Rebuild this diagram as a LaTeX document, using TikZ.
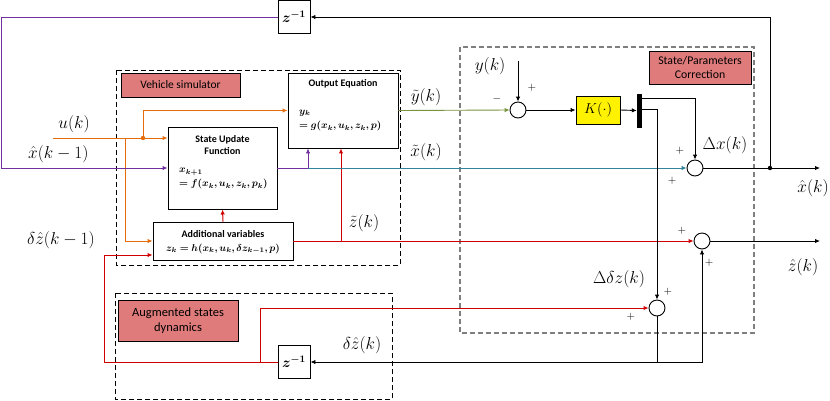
\documentclass[tikz,border=0pt]{standalone}
\usepackage{amsmath,bm}
\usepackage{fontspec}
\setmainfont{Carlito}
\usetikzlibrary{arrows.meta,calc}
\definecolor{orng}{HTML}{E46C0A}
\definecolor{purp}{HTML}{7030A0}
\definecolor{tealc}{HTML}{31849B}
\definecolor{grn}{HTML}{77933C}
\definecolor{redc}{HTML}{D00000}
\definecolor{labred}{HTML}{E07B7B}
\definecolor{dgray}{HTML}{7F7F7F}
\tikzset{
  blk/.style={draw, line width=0.9pt, fill=white, inner sep=0pt},
  sumc/.style={circle, draw, line width=0.9pt, minimum size=16pt, inner sep=0pt, fill=white},
  lab/.style={draw, line width=0.6pt, fill=labred, align=center, inner sep=0pt},
  arr/.style={-{Latex[length=5pt,width=4.5pt]}, line width=0.9pt},
  rarr/.style={-{Latex[length=5pt,width=4.5pt]}, line width=1pt, draw=redc, color=redc},
  ln/.style={line width=0.9pt},
  ml/.style={font=\fontsize{16}{18}\selectfont},
  pm/.style={font=\fontsize{11}{12}\selectfont},
  ttl/.style={font=\bfseries\fontsize{10}{12}\selectfont, align=center},
  eq/.style={font=\fontsize{10}{12}\selectfont, anchor=west, inner sep=0pt},
  dbox/.style={dashed, dash pattern=on 5pt off 3pt, line width=0.8pt},
}
\begin{document}
\begin{tikzpicture}[x=1pt,y=-1pt]
\useasboundingbox (0,0) rectangle (830,400);
% dashed groups
\draw[dbox] (116,70) rectangle (400,265);
\draw[dbox, dgray, line width=1.1pt] (460,47) rectangle (754,333);
\draw[dbox] (115,293) rectangle (392,399);
% labels
\node[lab, minimum width=119pt, minimum height=24pt, font=\fontsize{11.5}{13}\selectfont] (vsl) at (180.5,85) {Vehicle simulator};
\node[lab, minimum width=102pt, minimum height=33pt, font=\fontsize{11.8}{14}\selectfont] (spl) at (700,67.5) {State/Parameters\\Correction};
\node[lab, minimum width=120pt, minimum height=41pt, font=\fontsize{12.5}{15}\selectfont] (asl) at (178,320.5) {Augmented states\\dynamics};
% coordinates
\coordinate (uin) at (53,138);
\coordinate (jo) at (143,138);
\coordinate (jv) at (125,138);
\coordinate (pc) at (1,168);
\coordinate (pj) at (308,168);
\coordinate (yk) at (518,61);
\coordinate (b1) at (641,98);
\coordinate (b2) at (641,109);
\coordinate (xo) at (820,168);
\coordinate (jx) at (770,168);
\coordinate (rj) at (341,241);
\coordinate (rl) at (104,255);
\coordinate (rb) at (260,362);
\coordinate (bj) at (657,362);
\coordinate (zo) at (820,241);
% blocks (shapes only)
\node[blk, minimum width=32pt, minimum height=33pt] (zt) at (294,17) {};
\node[blk, minimum width=32pt, minimum height=33pt] (zb) at (294,362) {};
\node[blk, minimum width=110pt, minimum height=75pt] (oe) at (343,110.5) {};
\node[blk, minimum width=109pt, minimum height=82pt] (su) at (222.5,168) {};
\node[blk, minimum width=140pt, minimum height=38pt] (av) at (223,241) {};
\node[blk, fill=yellow, minimum width=44pt, minimum height=28pt] (K) at (598,110) {};
\node[draw, fill=black, minimum width=4pt, minimum height=33pt, inner sep=0pt] (bar) at (639,110.5) {};
\node[sumc] (s1) at (518,110) {};
\node[sumc] (s2) at (695,168) {};
\node[sumc] (s3) at (657,308) {};
\node[sumc] (s4) at (702,241) {};
% red
\draw[rarr] (av.east) -- (s4.west);
\draw[rarr] (rj) -- (rj |- oe.south);
\draw[rarr] (av.north) -- (su.south);
\draw[rarr] (zb.west) -| (rl) -- (rl -| av.west);
\draw[rarr] (rb) |- (s3.west);
% orange
\draw[arr, orng] (uin) -- (uin -| su.west);
\draw[arr, orng] (jo) |- (oe.west);
\draw[arr, orng] (jv) |- (av.west);
\fill[orng] (jo) circle (2.2pt);
% purple
\draw[arr, purp] (zt.west) -| (pc) -- (pc -| su.west);
\draw[ln, purp] (su.east) -- (pj);
\draw[arr, purp] (pj) -- (pj |- oe.south);
% teal
\draw[arr, tealc] (pj) -- (s2.west);
% green
\draw[arr, grn] (oe.east) -- (s1.west);
% black correction
\draw[arr] (yk) -- (s1.north);
\draw[arr] (s1.east) -- (K.west);
\draw[arr] (K.east) -- (bar.west);
\draw[arr] (b1) -| (s2.north);
\draw[arr] (b2) -| (s3.north);
\draw[arr] (s2.east) -- (xo);
\draw[arr] (jx) |- (zt.east);
\fill (jx) circle (2.2pt);
\draw[arr] (s4.east) -- (zo);
\draw[ln] (s3.south) -- (bj);
\draw[arr] (bj) -- (zb.east);
\draw[arr] (bj) -| (s4.south);
% block texts
\node[font=\fontsize{14}{16}\selectfont] (ztx) at (zt) {$\bm{z^{-1}}$};
\node[font=\fontsize{14}{16}\selectfont] (zbx) at (zb) {$\bm{z^{-1}}$};
\node[ttl] (oet) at (343,84) {Output Equation};
\node[eq] (oe1) at (299,113) {$\bm{y_k}$};
\node[eq] (oe2) at (299,126) {$\bm{=g(x_k,u_k,z_k,p)}$};
\node[ttl] (sut) at (222.5,145) {State Update\\Function};
\node[eq] (su1) at (179,172) {$\bm{x_{k+1}}$};
\node[eq] (su2) at (179,184) {$\bm{=f(x_k,u_k,z_k,p_k)}$};
\node[ttl] (avt) at (223,234) {Additional variables};
\node[eq, anchor=center] (av1) at (223,249) {$\bm{z_k=h(x_k,u_k,\delta z_{k-1},p)}$};
\node[font=\fontsize{15}{17}\selectfont] (Kx) at (K) {$K(\cdot)$};
% signal labels
\node[ml] (lu) at (74,124) {$u(k)$};
\node[ml, anchor=west, inner sep=0pt] (lx) at (28,154) {$\hat{x}(k-1)$};
\node[ml, anchor=west, inner sep=0pt] (ldz) at (27,240) {$\delta\hat{z}(k-1)$};
\node[ml] (lyt) at (426,97) {$\tilde{y}(k)$};
\node[ml] (lxt) at (426,152) {$\tilde{x}(k)$};
\node[ml] (lzt) at (364,223) {$\tilde{z}(k)$};
\node[ml] (ly) at (490,66) {$y(k)$};
\node[ml] (ldx) at (725,145) {$\Delta x(k)$};
\node[ml] (lxh) at (813,188) {$\hat{x}(k)$};
\node[ml] (lzh) at (803,267) {$\hat{z}(k)$};
\node[ml] (lddz) at (619,279) {$\Delta\delta z(k)$};
\node[ml] (ldzk) at (362,345) {$\delta\hat{z}(k)$};
% signs
\node[pm] (p1) at (532,88) {$+$};
\node[pm] (m1) at (497,99) {$-$};
\node[pm] (p2) at (680,151) {$+$};
\node[pm] (p3) at (672,181) {$+$};
\node[pm] (p4) at (682,231) {$+$};
\node[pm] (p5) at (709,263) {$+$};
\node[pm] (p6) at (668,292) {$+$};
\node[pm] (p7) at (631,317) {$+$};
\end{tikzpicture}
\end{document}
